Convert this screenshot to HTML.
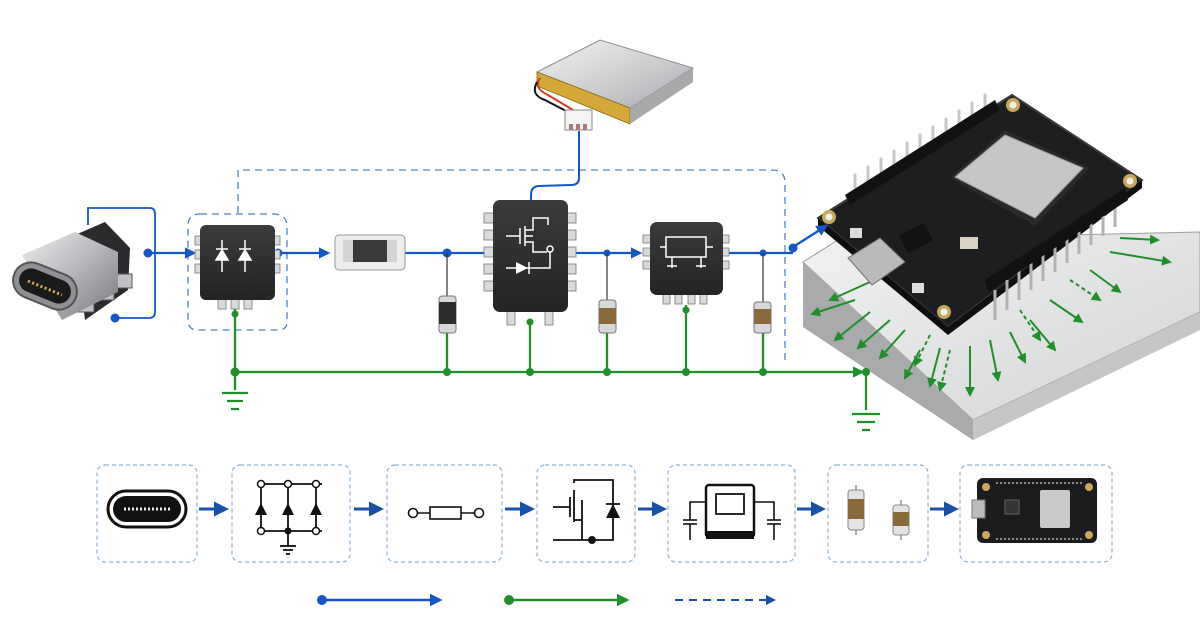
<!DOCTYPE html>
<html><head><meta charset="utf-8"><style>
html,body{margin:0;padding:0;background:#fff;}
svg{display:block;}
</style></head><body>
<svg width="1200" height="630" viewBox="0 0 1200 630" xmlns="http://www.w3.org/2000/svg">
<defs>
<linearGradient id="metal" x1="0" y1="0" x2="1" y2="1">
<stop offset="0" stop-color="#eeeeef"/><stop offset="0.5" stop-color="#b4b6b9"/><stop offset="1" stop-color="#75777a"/></linearGradient>
<linearGradient id="batt" x1="0" y1="0" x2="1" y2="1">
<stop offset="0" stop-color="#f2f2f2"/><stop offset="0.6" stop-color="#c9cacc"/><stop offset="1" stop-color="#a5a7aa"/></linearGradient>
<linearGradient id="plate" x1="0" y1="0" x2="1" y2="1">
<stop offset="0" stop-color="#f1f2f2"/><stop offset="1" stop-color="#d2d4d5"/></linearGradient>
<linearGradient id="chip" x1="0" y1="0" x2="0" y2="1">
<stop offset="0" stop-color="#3a3b3d"/><stop offset="1" stop-color="#232425"/></linearGradient>
<marker id="ab" viewBox="0 0 10 10" refX="8" refY="5" markerWidth="5" markerHeight="5" orient="auto"><path d="M0,0L10,5L0,10z" fill="#1457c8"/></marker>
<marker id="ag" viewBox="0 0 10 10" refX="8" refY="5" markerWidth="5" markerHeight="5" orient="auto"><path d="M0,0L10,5L0,10z" fill="#1f8f2a"/></marker>
<marker id="ad" viewBox="0 0 10 10" refX="8" refY="5" markerWidth="5" markerHeight="5" orient="auto"><path d="M0,0L10,5L0,10z" fill="#1a4fa8"/></marker>
</defs>

<path d="M238,213 L238,170 L772,170 Q785,170 785,183 L785,362" fill="none" stroke="#4a86c8" stroke-width="1.3" stroke-dasharray="7,5"/>
<path d="M200,214 L276,214 Q287,216 287,226 L287,322 Q287,330 278,330 L198,330 Q188,330 188,320 L188,226 Q188,214 200,214" fill="none" stroke="#4a86c8" stroke-width="1.3" stroke-dasharray="7,5"/>

<!-- plate -->
<polygon points="803,262 838,240 1200,232 1200,330 973,440 803,327" fill="#b9bbbd"/>
<polygon points="803,262 838,240 1200,232 1200,312 973,420" fill="url(#plate)" stroke="#9a9c9e" stroke-width="1"/>
<polygon points="803,262 973,420 973,440 803,327" fill="#a8aaac"/>
<polygon points="973,420 1200,312 1200,330 973,440" fill="#c4c6c8"/>

<g stroke="#1f8f2a" stroke-width="2" fill="none" marker-end="url(#ag)">
<path d="M870,282 L830,300"/><path d="M855,300 L812,314"/><path d="M870,312 L835,340"/><path d="M890,320 L858,348"/><path d="M905,330 L880,358"/>
<path d="M920,350 L905,378"/><path d="M940,348 L930,386"/><path d="M950,350 L940,390" stroke-dasharray="4,3"/><path d="M970,346 L970,395"/><path d="M990,340 L998,380"/>
<path d="M1010,332 L1025,362"/><path d="M1030,320 L1055,350"/><path d="M1050,300 L1082,322"/><path d="M1070,280 L1100,300" stroke-dasharray="4,3"/><path d="M1090,270 L1120,292"/>
<path d="M1110,252 L1170,262"/><path d="M1120,238 L1158,240"/><path d="M1020,310 L1040,340" stroke-dasharray="4,3"/><path d="M930,335 L915,365" stroke-dasharray="4,3"/>
</g>

<!-- PCB board -->
<polygon points="818,218 1012,95 1142,180 948,327" fill="#1d1e20" stroke="#3a3b3d" stroke-width="2"/>
<polygon points="818,218 948,327 948,335 818,226" fill="#0e0e0f"/>
<polygon points="948,327 1142,180 1142,188 948,335" fill="#101012"/>
<g stroke="#c5c7c9" stroke-width="3" stroke-linecap="round">
<path d="M855,190 L855,175"/><path d="M868,182 L868,167"/><path d="M881,174 L881,159"/><path d="M894,166 L894,151"/><path d="M907,158 L907,143"/><path d="M920,150 L920,135"/><path d="M933,142 L933,127"/><path d="M946,134 L946,119"/><path d="M959,126 L959,111"/><path d="M972,118 L972,103"/><path d="M985,110 L985,95"/>
</g>
<polygon points="845,195 995,100 1000,110 850,205" fill="#111"/>
<g stroke="#b0b2b4" stroke-width="3">
<path d="M995,290 L995,320"/><path d="M1007,280 L1007,310"/><path d="M1019,270 L1019,300"/><path d="M1031,260 L1031,290"/><path d="M1043,251 L1043,281"/><path d="M1055,242 L1055,272"/><path d="M1067,233 L1067,263"/><path d="M1079,224 L1079,254"/><path d="M1091,215 L1091,245"/><path d="M1103,206 L1103,236"/><path d="M1115,197 L1115,227"/>
</g>
<polygon points="985,280 1125,188 1128,200 988,292" fill="#111"/>
<polygon points="950,178 1005,130 1090,168 1035,226" fill="#2a2a2a"/>
<polygon points="955,177 1005,135 1083,168 1035,218" fill="#c5c6c6" stroke="#9a9b9c"/>
<g fill="#c9a85a"><circle cx="829" cy="217" r="7"/><circle cx="1013" cy="105" r="7"/><circle cx="1130" cy="181" r="7"/><circle cx="944" cy="312" r="7"/></g>
<g fill="#eee"><circle cx="829" cy="217" r="3.5"/><circle cx="1013" cy="105" r="3.5"/><circle cx="1130" cy="181" r="3.5"/><circle cx="944" cy="312" r="3.5"/></g>
<polygon points="848,258 880,238 905,262 872,285" fill="#b8babc" stroke="#6c6e70"/>
<rect x="902" y="228" width="28" height="20" fill="#111" transform="rotate(-28 916 238)"/>
<rect x="850" y="228" width="12" height="10" fill="#ddd"/><rect x="912" y="283" width="12" height="10" fill="#ddd"/>
<rect x="960" y="237" width="18" height="12" fill="#d9d2c0"/>

<!-- battery -->
<polygon points="537,72 600,40 693,68 630,108" fill="url(#batt)" stroke="#8d8f91"/>
<polygon points="537,72 630,108 630,124 537,86" fill="#d4a93a" stroke="#8a6a1a" stroke-width="0.8"/>
<polygon points="630,108 693,68 693,82 630,124" fill="#a7a9ab"/>
<path d="M540,78 Q533,88 548,95 L573,110" stroke="#d43a20" stroke-width="2" fill="none"/>
<path d="M537,82 Q530,95 545,100 L568,112" stroke="#111" stroke-width="2" fill="none"/>
<rect x="565" y="110" width="27" height="20" fill="#f4f4f4" stroke="#888"/>
<rect x="569" y="124" width="4" height="6" fill="#a77"/><rect x="576" y="124" width="4" height="6" fill="#a77"/><rect x="583" y="124" width="4" height="6" fill="#a77"/>
<path d="M579,131 L579,178 Q579,185 571,185 L538,186 Q531,187 531,195 L531,200" stroke="#1457c8" stroke-width="2" fill="none"/>

<!-- USB connector -->
<path d="M88,225 L88,208 L150,208 Q155,208 155,214 L155,312 Q155,318 149,318 L115,318" fill="none" stroke="#1457c8" stroke-width="1.8"/>
<polygon points="75,235 105,222 130,248 128,290 85,320" fill="#2a2b2d"/>
<rect x="78" y="298" width="16" height="14" fill="#bfc1c3" stroke="#555"/><rect x="98" y="286" width="16" height="14" fill="#bfc1c3" stroke="#555"/><rect x="116" y="274" width="16" height="14" fill="#bfc1c3" stroke="#555"/>
<polygon points="22,255 75,232 118,252 118,292 62,320" fill="url(#metal)"/>
<rect x="12" y="268" width="66" height="36" rx="18" fill="#8e9093" stroke="#555" stroke-width="2" transform="rotate(22 45 286)"/>
<rect x="18" y="274" width="54" height="24" rx="12" fill="#1a1a1a" transform="rotate(22 45 286)"/>
<line x1="28" y1="281" x2="62" y2="295" stroke="#d6b24a" stroke-width="3" stroke-dasharray="2,2.5"/>

<g stroke="#1457c8" stroke-width="2.3" fill="none">
<line x1="148" y1="253" x2="194" y2="253" marker-end="url(#ab)"/>
<line x1="276" y1="253" x2="328" y2="253" marker-end="url(#ab)"/>
<line x1="405" y1="253" x2="492" y2="253"/>
<line x1="566" y1="253" x2="640" y2="253" marker-end="url(#ab)"/>
<line x1="724" y1="253" x2="793" y2="253"/>
<line x1="793" y1="247" x2="826" y2="226" marker-end="url(#ab)"/>
</g>
<g fill="#1457c8"><circle cx="148" cy="253" r="4.5"/><circle cx="115" cy="318" r="4.5"/><circle cx="278" cy="253" r="4.5"/><circle cx="447" cy="253" r="4.5"/><circle cx="607" cy="253" r="3.5"/><circle cx="763" cy="253" r="3.5"/><circle cx="793" cy="248" r="4.5"/></g>
<g stroke="#333" stroke-width="1.2"><line x1="447" y1="253" x2="447" y2="296"/><line x1="607" y1="253" x2="607" y2="300"/><line x1="763" y1="253" x2="763" y2="302"/></g>

<g stroke="#1f8f2a" stroke-width="2.3" fill="none">
<line x1="235" y1="305" x2="235" y2="390"/>
<line x1="235" y1="372" x2="862" y2="372" marker-end="url(#ag)"/>
<line x1="447" y1="333" x2="447" y2="372"/><line x1="530" y1="320" x2="530" y2="372"/>
<line x1="607" y1="333" x2="607" y2="372"/><line x1="686" y1="305" x2="686" y2="372"/><line x1="763" y1="333" x2="763" y2="372"/>
<line x1="866" y1="368" x2="866" y2="410"/>
<line x1="222" y1="393" x2="248" y2="393"/><line x1="227" y1="401" x2="243" y2="401"/><line x1="231" y1="409" x2="239" y2="409"/>
<line x1="852" y1="414" x2="880" y2="414"/><line x1="857" y1="422" x2="875" y2="422"/><line x1="862" y1="430" x2="870" y2="430"/>
</g>
<g fill="#1f8f2a"><circle cx="235" cy="372" r="4.5"/><circle cx="235" cy="314" r="3.5"/><circle cx="447" cy="372" r="4"/><circle cx="530" cy="372" r="4"/><circle cx="530" cy="322" r="3.5"/><circle cx="607" cy="372" r="4"/><circle cx="686" cy="372" r="4"/><circle cx="686" cy="310" r="3.5"/><circle cx="763" cy="372" r="4"/><circle cx="866" cy="372" r="4"/></g>

<g fill="#d8dadb" stroke="#777" stroke-width="0.8">
<rect x="195" y="236" width="8" height="9"/><rect x="195" y="250" width="8" height="9"/><rect x="195" y="264" width="8" height="9"/>
<rect x="272" y="236" width="8" height="9"/><rect x="272" y="250" width="8" height="9"/><rect x="272" y="264" width="8" height="9"/>
<rect x="218" y="295" width="8" height="14"/><rect x="231" y="295" width="8" height="14"/><rect x="244" y="295" width="8" height="14"/>
</g>
<rect x="200" y="225" width="75" height="75" rx="6" fill="url(#chip)"/>
<g stroke="#fff" stroke-width="1.5" fill="#fff">
<line x1="222" y1="240" x2="222" y2="272"/><line x1="245" y1="240" x2="245" y2="272"/>
<polygon points="216,260 228,260 222,250"/><polygon points="239,260 251,260 245,250"/>
<line x1="216" y1="249" x2="228" y2="249"/><line x1="239" y1="249" x2="251" y2="249"/>
</g>

<rect x="335" y="235" width="70" height="35" rx="4" fill="#eceded" stroke="#999"/>
<rect x="343" y="240" width="54" height="22" rx="3" fill="#3a3a3a"/>
<rect x="343" y="240" width="10" height="22" fill="#d2d3d4"/><rect x="387" y="240" width="10" height="22" fill="#d2d3d4"/>

<rect x="439" y="296" width="17" height="37" rx="3" fill="#d7d8d9" stroke="#777"/><rect x="439" y="302" width="17" height="22" fill="#2e2e2e"/>
<rect x="599" y="300" width="17" height="33" rx="3" fill="#d7d8d9" stroke="#777"/><rect x="599" y="308" width="17" height="16" fill="#8a6a3a"/>
<rect x="754" y="302" width="17" height="31" rx="3" fill="#d7d8d9" stroke="#777"/><rect x="754" y="309" width="17" height="15" fill="#8a6a3a"/>

<g fill="#d8dadb" stroke="#777" stroke-width="0.8">
<rect x="484" y="213" width="10" height="10"/><rect x="484" y="230" width="10" height="10"/><rect x="484" y="247" width="10" height="10"/><rect x="484" y="264" width="10" height="10"/><rect x="484" y="281" width="10" height="10"/>
<rect x="566" y="213" width="10" height="10"/><rect x="566" y="230" width="10" height="10"/><rect x="566" y="247" width="10" height="10"/><rect x="566" y="264" width="10" height="10"/><rect x="566" y="281" width="10" height="10"/>
<rect x="507" y="305" width="8" height="20"/><rect x="545" y="305" width="8" height="20"/>
</g>
<rect x="493" y="200" width="75" height="112" rx="7" fill="url(#chip)"/>
<g stroke="#fff" stroke-width="1.5" fill="none">
<line x1="506" y1="236" x2="520" y2="236"/><line x1="520" y1="228" x2="520" y2="244"/><line x1="525" y1="226" x2="525" y2="246"/>
<path d="M525,230 L533,230 L533,218 L548,218 L548,225"/><path d="M525,242 L533,242 L533,252 L547,252"/><line x1="533" y1="236" x2="525" y2="236"/>
<circle cx="550" cy="249" r="3"/><path d="M550,252 L550,268 L506,268"/>
</g>
<polygon points="516,262 516,274 528,268" fill="#fff"/><line x1="529" y1="262" x2="529" y2="274" stroke="#fff" stroke-width="1.5"/>

<g fill="#d8dadb" stroke="#777" stroke-width="0.8">
<rect x="643" y="235" width="9" height="8"/><rect x="643" y="248" width="9" height="8"/><rect x="643" y="261" width="9" height="8"/>
<rect x="720" y="235" width="9" height="8"/><rect x="720" y="248" width="9" height="8"/><rect x="720" y="261" width="9" height="8"/>
<rect x="663" y="290" width="7" height="14"/><rect x="675" y="290" width="7" height="14"/><rect x="688" y="290" width="7" height="14"/><rect x="700" y="290" width="7" height="14"/>
</g>
<rect x="650" y="222" width="73" height="73" rx="7" fill="url(#chip)"/>
<g stroke="#fff" stroke-width="1.5" fill="none">
<rect x="666" y="237" width="40" height="20"/><line x1="660" y1="247" x2="666" y2="247"/><line x1="706" y1="247" x2="713" y2="247"/>
<line x1="672" y1="257" x2="672" y2="268"/><line x1="667" y1="266" x2="677" y2="266"/><line x1="701" y1="257" x2="701" y2="268"/><line x1="696" y1="266" x2="706" y2="266"/>
</g>

<g fill="none" stroke="#8fb3d8" stroke-width="1.2" stroke-dasharray="4,3">
<rect x="97" y="465" width="100" height="97" rx="8"/><rect x="232" y="465" width="118" height="97" rx="8"/>
<rect x="387" y="465" width="115" height="97" rx="8"/><rect x="537" y="465" width="98" height="97" rx="8"/>
<rect x="668" y="465" width="127" height="97" rx="8"/><rect x="828" y="465" width="100" height="97" rx="8"/>
<rect x="960" y="465" width="152" height="97" rx="8"/>
</g>
<g stroke="#1a4fa8" stroke-width="3" fill="none">
<line x1="199" y1="509" x2="226" y2="509" marker-end="url(#ad)"/><line x1="354" y1="509" x2="381" y2="509" marker-end="url(#ad)"/>
<line x1="505" y1="509" x2="532" y2="509" marker-end="url(#ad)"/><line x1="638" y1="509" x2="664" y2="509" marker-end="url(#ad)"/>
<line x1="797" y1="509" x2="823" y2="509" marker-end="url(#ad)"/><line x1="930" y1="509" x2="956" y2="509" marker-end="url(#ad)"/>
</g>
<rect x="108" y="491" width="78" height="36" rx="18" fill="#fff" stroke="#111" stroke-width="3"/>
<rect x="113" y="496" width="68" height="26" rx="13" fill="#111"/>
<line x1="124" y1="509" x2="170" y2="509" stroke="#eee" stroke-width="3" stroke-dasharray="2,2"/>
<g stroke="#111" stroke-width="1.8" fill="none">
<line x1="258" y1="484" x2="322" y2="484"/><line x1="258" y1="531" x2="322" y2="531"/>
<line x1="261" y1="484" x2="261" y2="531"/><line x1="288" y1="484" x2="288" y2="531"/><line x1="316" y1="484" x2="316" y2="531"/>
<line x1="288" y1="531" x2="288" y2="546"/><line x1="280" y1="546" x2="296" y2="546"/><line x1="283" y1="550" x2="293" y2="550"/><line x1="286" y1="554" x2="290" y2="554"/>
</g>
<g fill="#111"><polygon points="255,515 267,515 261,503"/><polygon points="282,515 294,515 288,503"/><polygon points="310,515 322,515 316,503"/><circle cx="288" cy="531" r="3.5"/></g>
<g fill="#fff" stroke="#111" stroke-width="1.5"><circle cx="261" cy="484" r="3.5"/><circle cx="288" cy="484" r="3.5"/><circle cx="316" cy="484" r="3.5"/><circle cx="261" cy="531" r="3.5"/><circle cx="316" cy="531" r="3.5"/></g>
<g stroke="#111" stroke-width="1.6" fill="#fff"><line x1="418" y1="513" x2="478" y2="513"/><circle cx="413" cy="513" r="4.5"/><circle cx="479" cy="513" r="4.5"/><rect x="430" y="507" width="31" height="12"/></g>
<g stroke="#111" stroke-width="1.8" fill="none">
<line x1="553" y1="507" x2="570" y2="507"/><line x1="570" y1="497" x2="570" y2="517"/><line x1="574" y1="490" x2="574" y2="522"/>
<path d="M574,483 L574,480 L613,480 L613,540 L596,540"/><line x1="574" y1="520" x2="582" y2="520"/><path d="M582,500 L582,540"/><line x1="553" y1="540" x2="590" y2="540"/>
</g>
<polygon points="606,518 620,518 613,504" fill="#111"/><line x1="606" y1="504" x2="620" y2="504" stroke="#111" stroke-width="1.8"/><circle cx="592" cy="540" r="4" fill="#111"/>
<rect x="706" y="485" width="48" height="52" rx="3" fill="#fff" stroke="#111" stroke-width="2.5"/><rect x="706" y="531" width="48" height="8" fill="#111"/>
<rect x="716" y="494" width="28" height="20" fill="#fff" stroke="#111" stroke-width="1.8"/>
<g stroke="#111" stroke-width="1.6" fill="none"><path d="M706,502 L690,502 L690,520"/><line x1="683" y1="520" x2="697" y2="520"/><line x1="683" y1="524" x2="697" y2="524"/><line x1="690" y1="524" x2="690" y2="540"/>
<path d="M754,502 L774,502 L774,520"/><line x1="767" y1="520" x2="781" y2="520"/><line x1="767" y1="524" x2="781" y2="524"/><line x1="774" y1="524" x2="774" y2="540"/></g>
<line x1="856" y1="485" x2="856" y2="535" stroke="#555"/><rect x="848" y="490" width="16" height="40" rx="3" fill="#e3e3e3" stroke="#888"/><rect x="848" y="499" width="16" height="20" fill="#8a6a3a"/>
<line x1="901" y1="500" x2="901" y2="540" stroke="#555"/><rect x="893" y="505" width="16" height="30" rx="3" fill="#e3e3e3" stroke="#888"/><rect x="893" y="512" width="16" height="14" fill="#8a6a3a"/>
<rect x="977" y="478" width="120" height="65" rx="6" fill="#1c1c1e"/>
<rect x="1040" y="490" width="30" height="38" rx="2" fill="#c9cacb"/>
<rect x="972" y="500" width="13" height="18" fill="#bbb" stroke="#777"/>
<g fill="#c9a85a"><circle cx="986" cy="487" r="4"/><circle cx="1089" cy="487" r="4"/><circle cx="986" cy="535" r="4"/><circle cx="1089" cy="535" r="4"/></g>
<line x1="996" y1="483" x2="1082" y2="483" stroke="#888" stroke-width="2" stroke-dasharray="2,2"/>
<line x1="996" y1="539" x2="1082" y2="539" stroke="#888" stroke-width="2" stroke-dasharray="2,2"/>
<rect x="1005" y="500" width="14" height="14" fill="#333" stroke="#666"/>

<circle cx="322" cy="600" r="5" fill="#1457c8"/><line x1="322" y1="600" x2="440" y2="600" stroke="#1457c8" stroke-width="2.5" marker-end="url(#ab)"/>
<circle cx="509" cy="600" r="5" fill="#1f8f2a"/><line x1="509" y1="600" x2="627" y2="600" stroke="#1f8f2a" stroke-width="2.5" marker-end="url(#ag)"/>
<line x1="675" y1="600" x2="774" y2="600" stroke="#1a4fa8" stroke-width="2" stroke-dasharray="8,6" marker-end="url(#ad)"/>
</svg>
</body></html>
